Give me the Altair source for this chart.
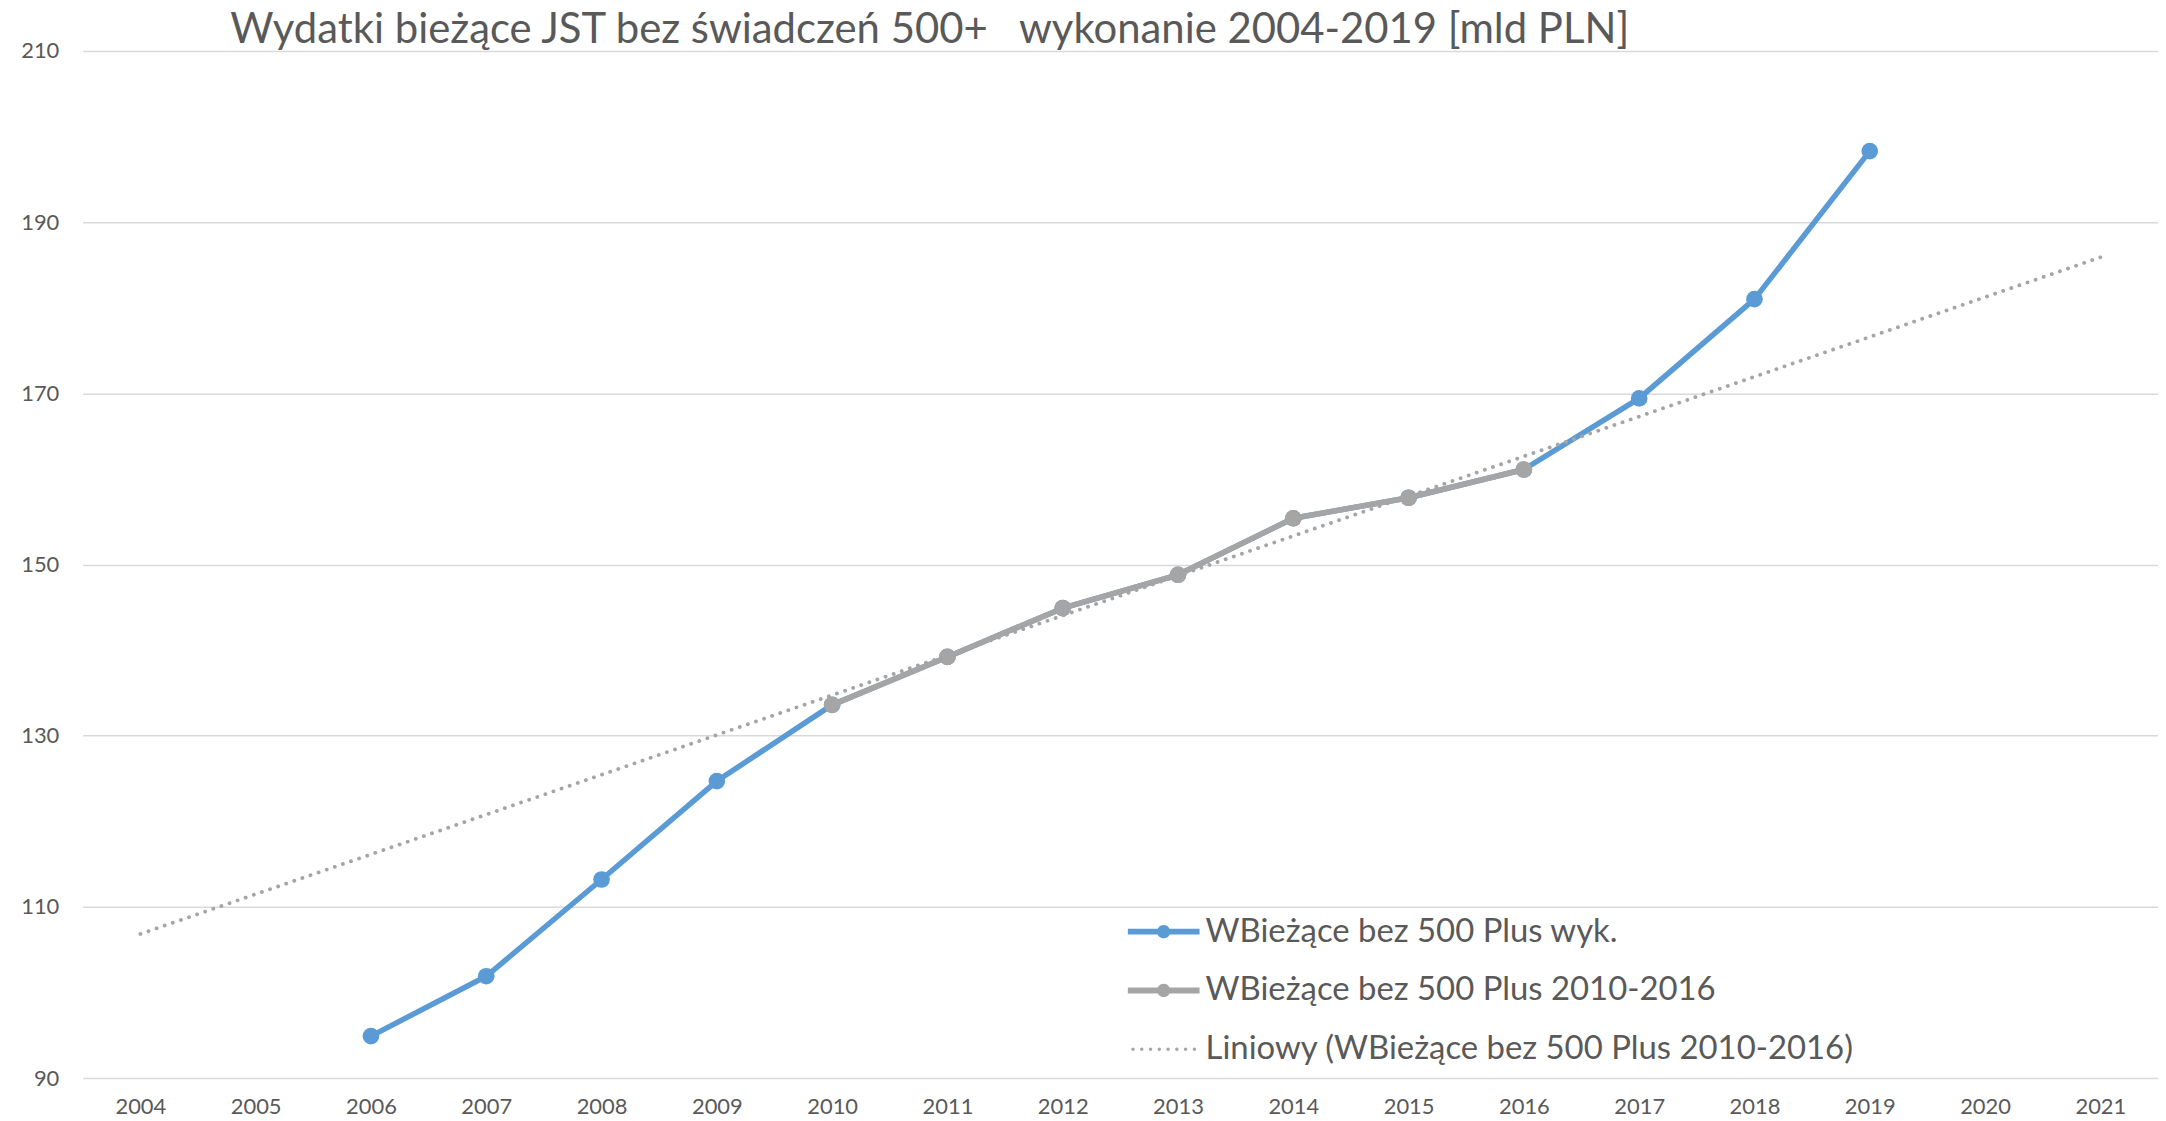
import altair as alt
import pandas as pd

# ---- data ----
years = list(range(2006, 2020))
wyk_values = [94.9, 101.9, 113.2, 124.7, 133.6, 139.2, 144.9, 148.8, 155.4, 157.8, 161.1, 169.4, 181.0, 198.3]
okres_years = list(range(2010, 2017))
okres_values = [133.6, 139.2, 144.9, 148.8, 155.4, 157.8, 161.1]
axis_years = list(range(2004, 2022))
y_ticks = [90, 110, 130, 150, 170, 190, 210]
trend_extent = [2004, 2021]
series_names = [
    "WBieżące bez 500 Plus wyk.",
    "WBieżące bez 500 Plus 2010-2016",
    "Liniowy (WBieżące bez 500 Plus 2010-2016)",
]
title_text = "Wydatki bieżące JST bez świadczeń 500+\u00a0\u00a0 wykonanie 2004-2019 [mld PLN]"

# ---- styles ----
BLUE = "#5B9BD5"
GRAY = "#A5A5A5"
TXT = "#595959"
FONT = "Lato"
series_colors = [BLUE, GRAY, GRAY]

line_dot = ("M-1.8,-0.15H1.8V0.15H-1.8Z "
            "M0.33,0A0.33,0.33 0 1,1 -0.33,0A0.33,0.33 0 1,1 0.33,0Z")
dot_parts = []
for i in range(8):
    cx = -1.54 + i * 0.44
    r = 0.085
    dot_parts.append(f"M{cx + r:.3f},0A{r},{r} 0 1,1 {cx - r:.3f},0A{r},{r} 0 1,1 {cx + r:.3f},0Z")
dotted = " ".join(dot_parts)
series_shapes = [line_dot, line_dot, dotted]

df_wyk = pd.DataFrame({"year": years, "value": wyk_values})
df_okres = pd.DataFrame({"year": okres_years, "value": okres_values})
df_leg = pd.DataFrame({"series": series_names})

x = alt.X(
    "year:Q",
    scale=alt.Scale(domain=[2003.5, 2021.5], nice=False, zero=False),
    axis=alt.Axis(values=axis_years, format="d", title=None, grid=False, domain=False,
                  ticks=False, tickSize=0, labelPadding=19, labelFont=FONT,
                  labelFontSize=22, labelColor=TXT, labelFlush=False),
)
y = alt.Y(
    "value:Q",
    scale=alt.Scale(domain=[90, 210], nice=False, zero=False),
    axis=alt.Axis(values=y_ticks, title=None, domain=False, ticks=False, tickSize=0,
                  labelPadding=24, gridColor="#D9D9D9", gridWidth=1.5,
                  labelFont=FONT, labelFontSize=22, labelColor=TXT),
)

blue_line = alt.Chart(df_wyk).mark_line(color=BLUE, strokeWidth=5.5, strokeJoin="round",
                                        strokeCap="round").encode(x=x, y=y)
blue_pts = alt.Chart(df_wyk).mark_point(filled=True, color=BLUE, size=280,
                                        opacity=1).encode(x=x, y=y)
gray_line = alt.Chart(df_okres).mark_line(color=GRAY, strokeWidth=5.5, strokeJoin="round",
                                          strokeCap="round").encode(x=x, y=y)
gray_pts = alt.Chart(df_okres).mark_point(filled=True, color=GRAY, size=280,
                                          opacity=1).encode(x=x, y=y)
trend = (
    alt.Chart(df_okres)
    .transform_regression("year", "value", extent=trend_extent)
    .mark_line(color=GRAY, strokeWidth=3.8, strokeDash=[0.1, 8.5], strokeCap="round")
    .encode(x=x, y=y)
)

leg = alt.Legend(title=None, orient="none", legendX=1065, legendY=864, symbolSize=1600,
                 symbolStrokeWidth=0, symbolOpacity=1, labelFont=FONT, labelFontSize=33,
                 labelColor=TXT, labelOffset=22, labelLimit=0, rowPadding=22, padding=0)
legend_layer = (
    alt.Chart(df_leg)
    .transform_filter("false")
    .mark_point(filled=True, opacity=1)
    .encode(
        color=alt.Color("series:N", scale=alt.Scale(domain=series_names, range=series_colors), legend=leg),
        shape=alt.Shape("series:N", scale=alt.Scale(domain=series_names, range=series_shapes), legend=leg),
    )
)

chart = (
    alt.layer(blue_line, blue_pts, gray_line, gray_pts, trend, legend_layer)
    .properties(
        width=2083,
        height=1031,
        title=alt.TitleParams(text=title_text, font=FONT, fontSize=42, fontWeight="normal",
                              color=TXT, anchor="start", frame="group", dx=148, dy=16),
        padding={"left": 75, "top": 41, "right": 0, "bottom": 41},
        autosize=alt.AutoSizeParams(type="none"),
        background="white",
    )
    .configure_view(stroke=None)
)

chart.save("out.html", embed_options={"renderer": "svg", "actions": False})
